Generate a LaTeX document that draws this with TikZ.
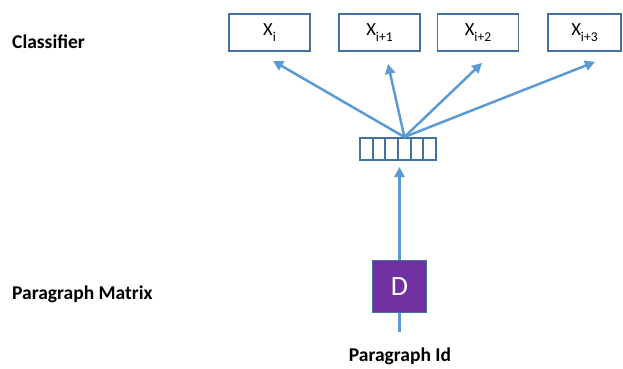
\documentclass[tikz,border=0pt]{standalone}
\usepackage{fontspec}
\setmainfont{Carlito}
\usetikzlibrary{calc,arrows.meta}
\definecolor{boxblue}{HTML}{41719C}
\definecolor{linkblue}{HTML}{5B9BD5}
\definecolor{dpurple}{HTML}{7030A0}
\newcommand{\xsub}[1]{X\raisebox{-0.35em}{\fontsize{13.5}{14}\selectfont #1}}

\begin{document}
\begin{tikzpicture}[x=1pt,y=-1pt,
  box/.style={draw=boxblue,line width=1.8pt,fill=white,minimum width=81pt,minimum height=37pt,inner sep=0pt,font=\fontsize{18.5}{22}\selectfont},
  cell/.style={draw=boxblue,line width=2pt,minimum width=12.7pt,minimum height=22pt,inner sep=0pt},
  link/.style={draw=linkblue,line width=2.5pt},
  tip/.style={-{Triangle[length=10pt,width=10pt]}},
  lbl/.style={inner sep=0pt,font=\fontsize{19.5}{23}\selectfont\bfseries}]
\useasboundingbox (0,0) rectangle (623,368);
\node[lbl,anchor=base west] (cls) at (12,48) {Classifier};
\node[lbl,anchor=base west] (pmat) at (12,299) {Paragraph Matrix};
\node[lbl,anchor=base] (pid) at (400,361) {Paragraph Id};
% output words
\node[box] (x1) at (269.5,32.5) {\xsub{i}};
\node[box] (x2) at (379.5,32.5) {\xsub{i+1}};
\node[box] (x3) at (478,32.5) {\xsub{i+2}};
\node[box,minimum width=73pt] (x4) at (584.5,32.5) {\xsub{i+3}};
% paragraph vector
\foreach \k in {0,...,5}
  \node[cell] (c\k) at ({366.3+12.7*\k},149) {};
\node[draw=boxblue,fill=dpurple,text=white,minimum width=54pt,minimum height=52pt,font=\fontsize{28}{30}\selectfont] (D) at (399.5,286.5) {D};
\coordinate (e1) at ($(x1.south)+(3.5,9)$);
\coordinate (e2) at ($(x2.south)+(8.5,12)$);
\coordinate (e3) at ($(x3.south)+(4,11)$);
\coordinate (e4) at ($(x4.south)+(10.5,10)$);
\coordinate (vin) at ($(D.north |- c3.south)+(0,6)$);
\coordinate (dend) at ($(D.south)+(0,19)$);
\foreach \i in {1,...,4}
  \draw[link,tip] (c3.north) -- (e\i);
\draw[link,tip] (D.north) -- (vin);
\draw[link] (D.south) -- (dend);
\end{tikzpicture}
\end{document}
